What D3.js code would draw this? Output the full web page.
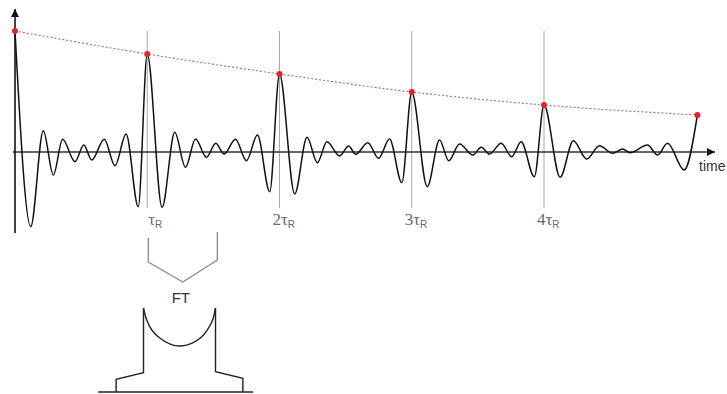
<!DOCTYPE html>
<html>
<head>
<meta charset="utf-8">
<script src="https://cdn.jsdelivr.net/npm/d3@7"></script>
<style>
  body { margin: 0; background: #fff; }
  svg { display: block; }
</style>
</head>
<body>
<div id="chart-area"></div>
<script>
// echo signal, time in units of tau_R, amplitude relative to first echo
var sigT = [0, 0.119, 0.214, 0.29, 0.36, 0.454, 0.52, 0.58, 0.675, 0.756, 0.84, 0.932,
            1, 1.112, 1.208, 1.289, 1.365, 1.448, 1.518, 1.581, 1.667, 1.75, 1.833, 1.926,
            2, 2.115, 2.208, 2.286, 2.359, 2.455, 2.523, 2.576, 2.668, 2.749, 2.832, 2.925,
            3, 3.117, 3.21, 3.28, 3.361, 3.462, 3.525, 3.588, 3.676, 3.756, 3.827, 3.927,
            4, 4.122, 4.222, 4.323, 4.419, 4.519, 4.595, 4.65, 4.783, 4.859, 4.934, 5.06, 5.16]
var sigA = [1, -0.617, 0.176, -0.19, 0.105, -0.08, 0.058, -0.066, 0.105, -0.113, 0.149, -0.452,
            0.81, -0.457, 0.163, -0.127, 0.107, -0.044, 0.072, -0.017, 0.105, -0.072, 0.14, -0.328,
            0.645, -0.347, 0.121, -0.088, 0.085, -0.033, 0.05, -0.019, 0.077, -0.052, 0.107, -0.254,
            0.496, -0.287, 0.099, -0.072, 0.066, -0.025, 0.039, -0.017, 0.072, -0.039, 0.085, -0.204,
            0.388, -0.209, 0.093, -0.058, 0.052, -0.011, 0.025, -0.006, 0.058, -0.025, 0.072, -0.149, 0.306]

// echo tops (red dots + dotted envelope)
var echoT = [0, 1, 2, 3, 4, 5.16]
var echoA = [1, 0.81, 0.645, 0.496, 0.388, 0.306]

// rotor period marks
var markT = [1, 2, 3, 4]
var markPre = ["", "2", "3", "4"]

// spectrum after FT (frequency relative to edge, intensity relative to edge top)
var specLeftF = [-1.76, -1.76, -1, -1]
var specLeftI = [0, 0.151, 0.23, 1]
var bowlF = [-1, -0.91, -0.77, -0.54, -0.26, 0.01, 0.34, 0.62, 0.8, 0.92, 1]
var bowlI = [1, 0.857, 0.738, 0.64, 0.571, 0.548, 0.58, 0.658, 0.758, 0.857, 1]
var specRightF = [1, 1, 1.76, 1.76]
var specRightI = [1, 0.242, 0.163, 0]
var baseF = [-2.26, 2.04]

var width = 727
var height = 394

var svg = d3.select("#chart-area")
  .append("svg")
  .attr("width", width)
  .attr("height", height)

var x = d3.scaleLinear().domain([0, 4]).range([15, 544])
var y = d3.scaleLinear().domain([0, 1]).range([152, 31])

// vertical marks at n*tau_R
svg.selectAll(".mark")
  .data(markT)
  .enter().append("line")
  .attr("class", "mark")
  .attr("x1", d => x(d)).attr("x2", d => x(d))
  .attr("y1", y(1.0)).attr("y2", 208)
  .attr("stroke", "#a8a8a8")
  .attr("stroke-width", 1)

var lab = svg.selectAll(".lab")
  .data(markT)
  .enter().append("text")
  .attr("class", "lab")
  .attr("x", (d, i) => x(d) - (markPre[i] ? 7 : -1))
  .attr("y", 225)
  .attr("fill", "#6a6a6a")
  .style("font-family", "'Liberation Serif', 'DejaVu Serif', serif")
  .style("font-size", "17px")
lab.append("tspan").text((d, i) => markPre[i] + "τ")
lab.append("tspan")
  .attr("dy", 3)
  .style("font-family", "'Liberation Sans', Arial, sans-serif")
  .style("font-size", "10px")
  .text("R")

// axes
var defs = svg.append("defs")
defs.append("marker")
  .attr("id", "arrow")
  .attr("viewBox", "0 0 10 10")
  .attr("refX", 10).attr("refY", 5)
  .attr("markerWidth", 9).attr("markerHeight", 8)
  .attr("markerUnits", "userSpaceOnUse")
  .attr("orient", "auto")
  .append("path")
  .attr("d", "M0,0 L10,5 L0,10 z")
  .attr("fill", "#111")

svg.append("line")
  .attr("x1", 13).attr("x2", 715)
  .attr("y1", y(0)).attr("y2", y(0))
  .attr("stroke", "#333")
  .attr("stroke-width", 1.5)
  .attr("marker-end", "url(#arrow)")

svg.append("line")
  .attr("x1", x(0)).attr("x2", x(0))
  .attr("y1", 233).attr("y2", 9)
  .attr("stroke", "#111")
  .attr("stroke-width", 1.6)
  .attr("marker-end", "url(#arrow)")

svg.append("text")
  .attr("x", 699).attr("y", 171)
  .attr("fill", "#333")
  .style("font-family", "'Liberation Sans', Arial, sans-serif")
  .style("font-size", "14px")
  .text("time")

// envelope
var env = d3.line()
  .x((d, i) => x(echoT[i]))
  .y((d, i) => y(echoA[i]))
  .curve(d3.curveMonotoneX)

svg.append("path")
  .attr("d", env(echoT))
  .attr("fill", "none")
  .attr("stroke", "#b06a6a")
  .attr("stroke-width", 1.1)
  .attr("stroke-dasharray", "2,2")

// signal
var sig = d3.line()
  .x((d, i) => x(sigT[i]))
  .y((d, i) => y(sigA[i]))
  .curve(d3.curveMonotoneX)

svg.append("path")
  .attr("d", sig(sigT))
  .attr("fill", "none")
  .attr("stroke", "#111")
  .attr("stroke-width", 1.5)

svg.selectAll(".echo")
  .data(echoT)
  .enter().append("circle")
  .attr("class", "echo")
  .attr("cx", d => x(d))
  .attr("cy", (d, i) => y(echoA[i]))
  .attr("r", 3)
  .attr("fill", "#e8202a")

// FT bracket below first period
var bx0 = x(1) + 1, bx1 = x(1.53)
svg.append("path")
  .attr("d", `M${bx0},238 L${bx0},262 L${(bx0 + bx1) / 2},282 L${bx1},260 L${bx1},232`)
  .attr("fill", "none")
  .attr("stroke", "#888")
  .attr("stroke-width", 1.3)

svg.append("text")
  .attr("x", (bx0 + bx1) / 2 - 2).attr("y", 303)
  .attr("text-anchor", "middle")
  .attr("fill", "#333")
  .style("font-family", "'Liberation Sans', Arial, sans-serif")
  .style("font-size", "15px")
  .text("FT")

// spectrum
var fx = d3.scaleLinear().domain([-1, 1]).range([143.5, 215.5])
var fy = d3.scaleLinear().domain([0, 1]).range([392, 308])

var specLine = d3.line()
  .x(d => fx(d[0]))
  .y(d => fy(d[1]))

var spec = svg.append("g")
  .attr("fill", "none")
  .attr("stroke", "#222")
  .attr("stroke-width", 1.4)

spec.append("path").attr("d", specLine(specLeftF.map((f, i) => [f, specLeftI[i]])))
spec.append("path").attr("d", specLine(specRightF.map((f, i) => [f, specRightI[i]])))
spec.append("path").attr("d", specLine.curve(d3.curveCatmullRom)(bowlF.map((f, i) => [f, bowlI[i]])))
spec.append("path").attr("d", d3.line().x(d => fx(d)).y(fy(0))(baseF))
</script>
</body>
</html>
